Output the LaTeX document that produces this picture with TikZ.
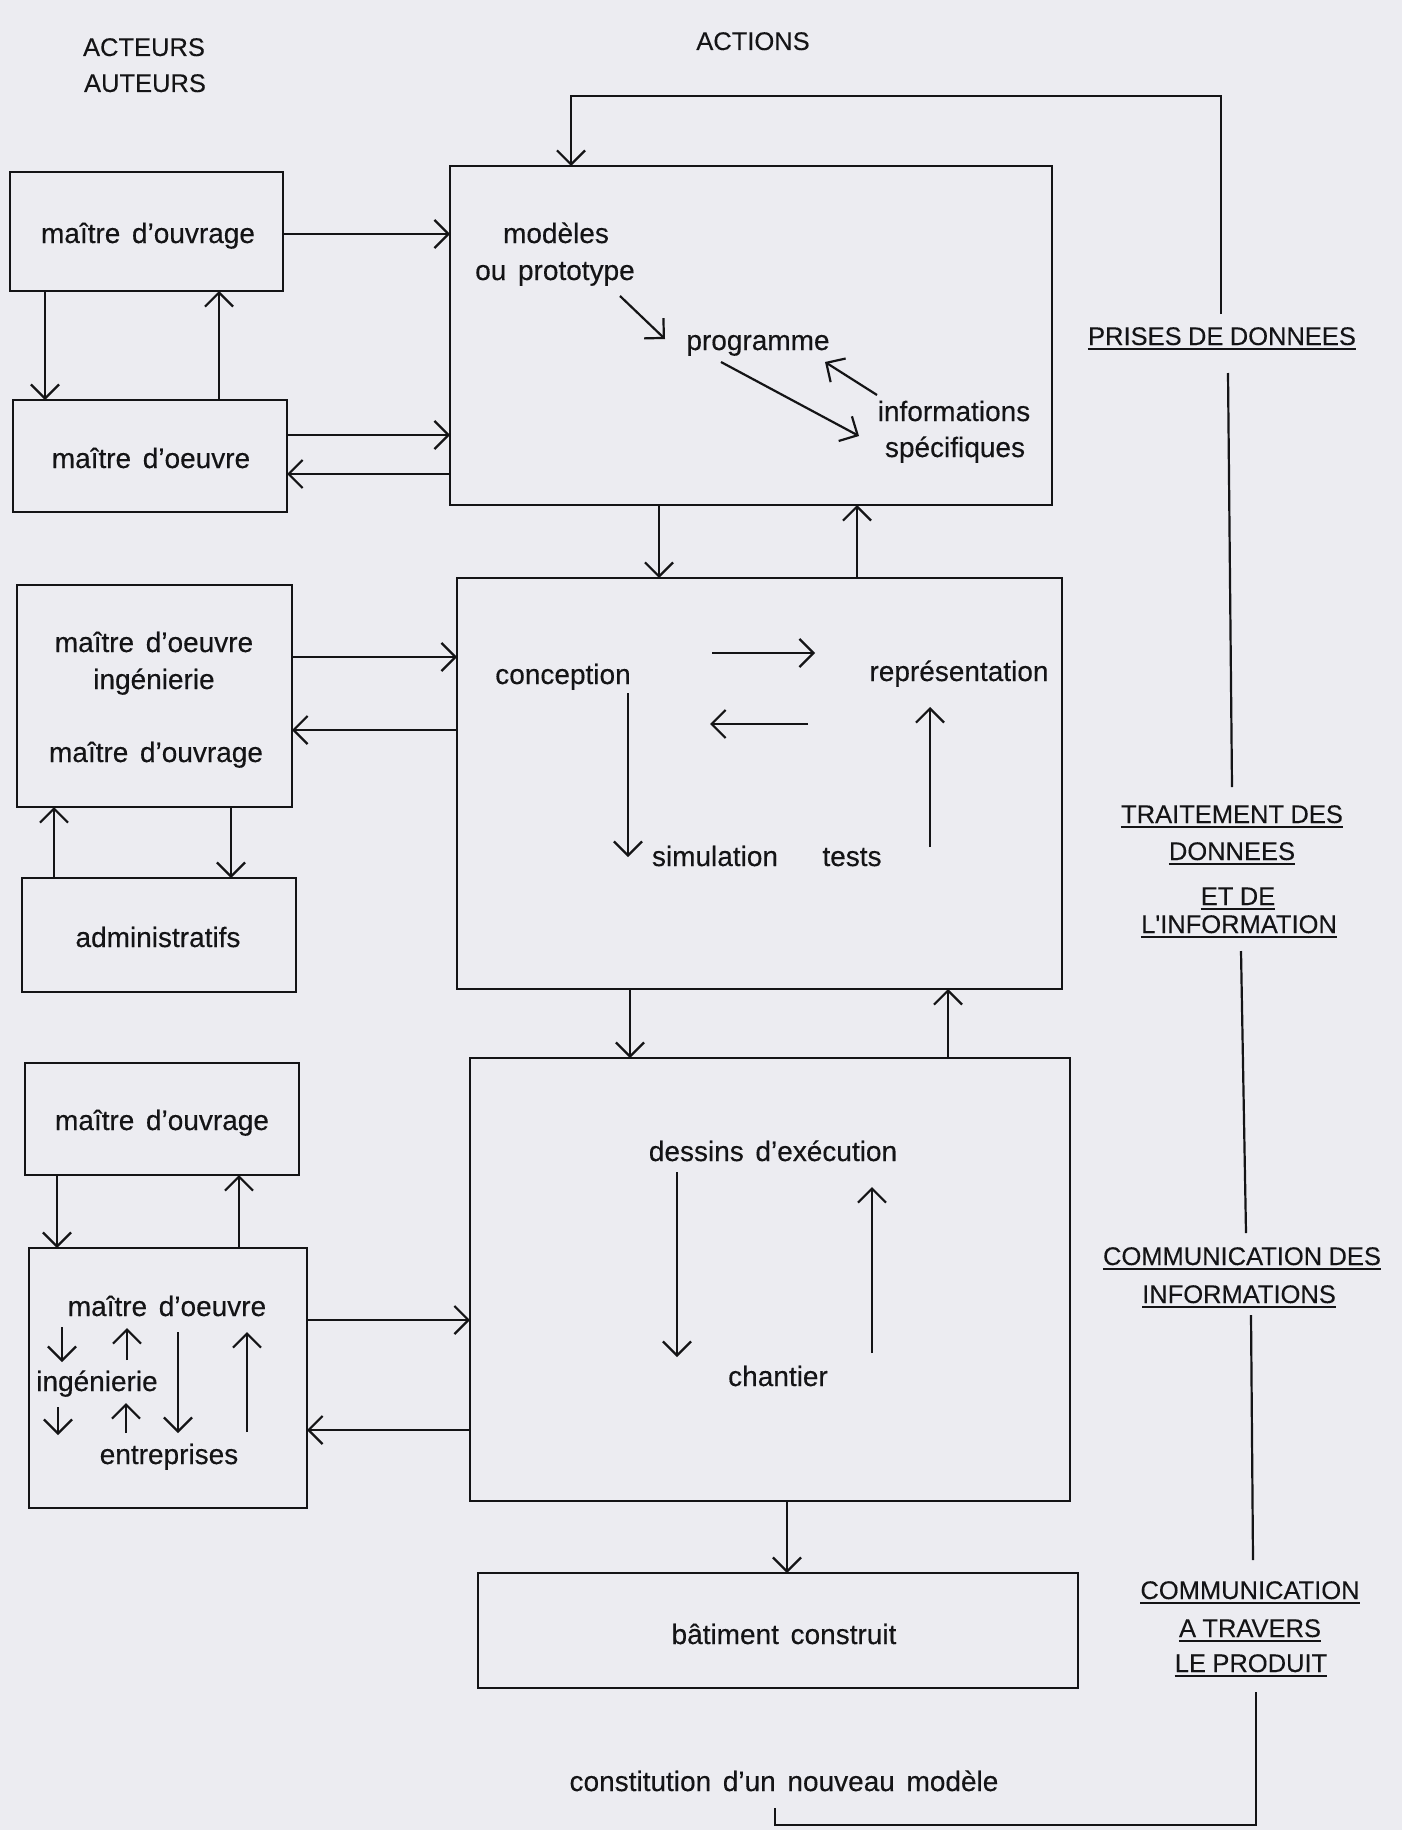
\documentclass[tikz,border=0pt]{standalone}
\usepackage{fontspec}
\setmainfont{Liberation Sans}[WordSpace=1.5,FakeBold=0.3]
\newfontfamily\capsfont{Liberation Sans}[WordSpace=0.9,FakeBold=0.2]
\usetikzlibrary{arrows.meta}
\definecolor{paper}{RGB}{236,236,241}
\definecolor{ink}{RGB}{20,20,22}
\begin{document}
\begin{tikzpicture}[x=1pt,y=-1pt,
  lbl/.style={inner sep=0pt, anchor=base, text=ink, font=\fontsize{28}{30}\selectfont},
  uclbl/.style={inner sep=0pt, anchor=base, text=ink, font=\capsfont\fontsize{25.5}{28}\selectfont},
  box/.style={draw=ink, line width=2.4pt, inner sep=0pt, outer sep=0pt},
  arr/.style={draw=ink, line width=2.2pt, -{Straight Barb[length=14pt,width=28pt]}},
  ln/.style={draw=ink, line width=2.2pt},
  ul/.style={draw=ink, line width=1.6pt}]
\fill[paper] (0,0) rectangle (1402,1830);
\useasboundingbox (0,0) rectangle (1402,1830);

% headings
\node[uclbl] (hac) at (144,56) {ACTEURS};
\node[uclbl] (hau) at (145,92) {AUTEURS};
\node[uclbl] (hact) at (753,50) {ACTIONS};

% left boxes (actors)
\node[box, minimum width=273pt, minimum height=119pt] (b1) at (146.5,231.5) {};
\node[box, minimum width=274pt, minimum height=112pt] (b2) at (150,456) {};
\node[box, minimum width=275pt, minimum height=222pt] (b3) at (154.5,696) {};
\node[box, minimum width=274pt, minimum height=114pt] (b4) at (159,935) {};
\node[box, minimum width=274pt, minimum height=112pt] (b5) at (162,1119) {};
\node[box, minimum width=278pt, minimum height=260pt] (b6) at (168,1378) {};

\node[lbl] (t1) at (148,243) {maître d'ouvrage};
\node[lbl] (t2) at (151,468) {maître d'oeuvre};
\node[lbl] (t3a) at (154,652) {maître d'oeuvre};
\node[lbl] (t3b) at (154,689) {ingénierie};
\node[lbl] (t3c) at (156,762) {maître d'ouvrage};
\node[lbl] (t4) at (158,947) {administratifs};
\node[lbl] (t5) at (162,1130) {maître d'ouvrage};
\node[lbl] (t6a) at (167,1316) {maître d'oeuvre};
\node[lbl] (t6b) at (97,1391) {ingénierie};
\node[lbl] (t6c) at (169,1464) {entreprises};

% action boxes
\node[box, minimum width=602pt, minimum height=339pt] (a1) at (751,335.5) {};
\node[box, minimum width=605pt, minimum height=411pt] (a2) at (759.5,783.5) {};
\node[box, minimum width=600pt, minimum height=443pt] (a3) at (770,1279.5) {};
\node[box, minimum width=600pt, minimum height=115pt] (a4) at (778,1630.5) {};

\node[lbl] (m1) at (556,243) {modèles};
\node[lbl] (m2) at (555,280) {ou prototype};
\node[lbl] (prog) at (758,350) {programme};
\node[lbl] (inf1) at (954,421) {informations};
\node[lbl] (inf2) at (955,457) {spécifiques};
\node[lbl] (conc) at (563,684) {conception};
\node[lbl] (repr) at (959,681) {représentation};
\node[lbl] (simu) at (715,866) {simulation};
\node[lbl] (tests) at (852,866) {tests};
\node[lbl] (dess) at (773,1161) {dessins d'exécution};
\node[lbl] (chan) at (778,1386) {chantier};
\node[lbl] (bat) at (784,1644) {bâtiment construit};
\node[lbl] (nouv) at (784,1791) {constitution d'un nouveau modèle};

% right-hand labels
\node[uclbl] (pr) at (1222,345) {PRISES DE DONNEES};
\node[uclbl] (tr1) at (1232,823) {TRAITEMENT DES};
\node[uclbl] (tr2) at (1232,860) {DONNEES};
\node[uclbl] (tr3) at (1238,905) {ET DE};
\node[uclbl] (tr4) at (1239,933) {L'INFORMATION};
\node[uclbl] (ci1) at (1242,1265) {COMMUNICATION DES};
\node[uclbl] (ci2) at (1239,1303) {INFORMATIONS};
\node[uclbl] (cp1) at (1250,1599) {COMMUNICATION};
\node[uclbl] (cp2) at (1250,1637) {A TRAVERS};
\node[uclbl] (cp3) at (1251,1672) {LE PRODUIT};
\foreach \n in {pr,tr1,tr2,tr3,tr4,ci1,ci2,cp1,cp2,cp3}
  \draw[ul] ([yshift=-4pt]\n.base west) -- ([yshift=-4pt]\n.base east);

% actor <-> actor arrows
\draw[arr] (45,0 |- b1.south) -- (45,0 |- b2.north);
\draw[arr] (219,0 |- b2.north) -- (219,0 |- b1.south);
\draw[arr] (54,0 |- b4.north) -- (54,0 |- b3.south);
\draw[arr] (231,0 |- b3.south) -- (231,0 |- b4.north);
\draw[arr] (57,0 |- b5.south) -- (57,0 |- b6.north);
\draw[arr] (239,0 |- b6.north) -- (239,0 |- b5.south);

% actor <-> action arrows
\draw[arr] (b1.east |- 0,234) -- (a1.west |- 0,234);
\draw[arr] (b2.east |- 0,435) -- (a1.west |- 0,435);
\draw[arr] (a1.west |- 0,474) -- (b2.east |- 0,474);
\draw[arr] (b3.east |- 0,657) -- (a2.west |- 0,657);
\draw[arr] (a2.west |- 0,730) -- (b3.east |- 0,730);
\draw[arr] (b6.east |- 0,1320) -- (a3.west |- 0,1320);
\draw[arr] (a3.west |- 0,1430) -- (b6.east |- 0,1430);

% action <-> action arrows
\draw[arr] (659,0 |- a1.south) -- (659,0 |- a2.north);
\draw[arr] (857,0 |- a2.north) -- (857,0 |- a1.south);
\draw[arr] (630,0 |- a2.south) -- (630,0 |- a3.north);
\draw[arr] (948,0 |- a3.north) -- (948,0 |- a2.south);
\draw[arr] (787,0 |- a3.south) -- (787,0 |- a4.north);

% arrows inside action boxes
\coordinate (p1s) at (620,296); \coordinate (p1e) at (665,339);
\draw[arr] (p1s) -- (p1e);
\coordinate (p2s) at (721,362); \coordinate (p2e) at (859,436);
\draw[arr] (p2s) -- (p2e);
\coordinate (p3s) at (877,395); \coordinate (p3e) at (825,362);
\draw[arr] (p3s) -- (p3e);
\draw[arr] (712,653) -- (815,653);
\draw[arr] (808,724) -- (710,724);
\draw[arr] (628,693) -- (628,857);
\draw[arr] (930,847) -- (930,707);
\draw[arr] (677,1172) -- (677,1357);
\draw[arr] (872,1353) -- (872,1187);

% arrows inside the lower actor box
\draw[arr] (62,1327) -- (62,1362);
\draw[arr] (127,1360) -- (127,1328);
\draw[arr] (178,1332) -- (178,1433);
\draw[arr] (247,1432) -- (247,1332);
\draw[arr] (58,1407) -- (58,1435);
\draw[arr] (126,1433) -- (126,1403);

% feedback loop on the right
\draw[arr] (1221,314) -- (1221,96) -- (571,96) -- (571,0 |- a1.north);
\draw[ln] (1228,373) -- (1232,787);
\draw[ln] (1241,951) -- (1246,1233);
\draw[ln] (1251,1315) -- (1253,1560);
\draw[ln] (1256,1692) -- (1256,1825) -- (775,1825) -- (775,1808);
\end{tikzpicture}
\end{document}
